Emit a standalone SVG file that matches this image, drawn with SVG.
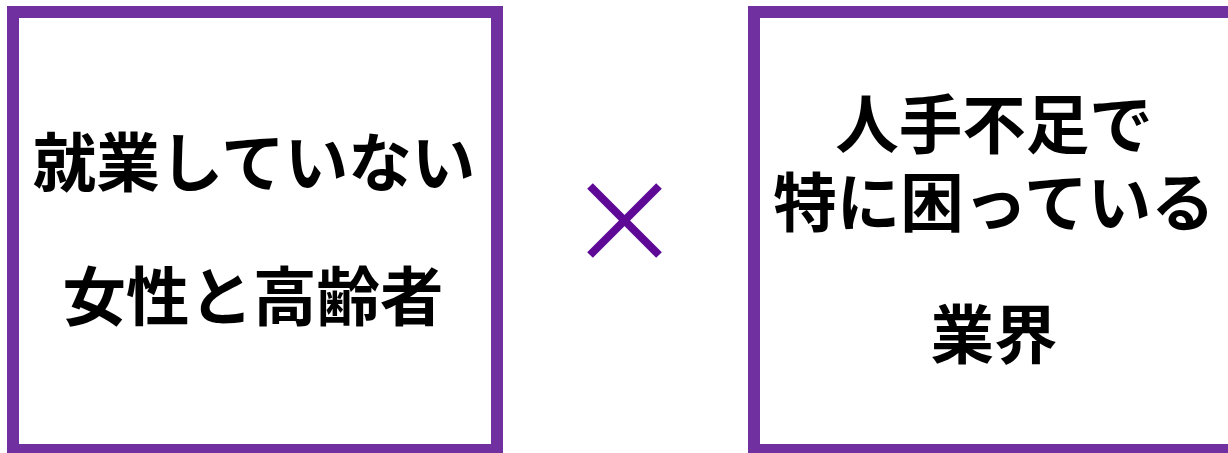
<svg xmlns="http://www.w3.org/2000/svg" width="1228" height="453" viewBox="0 0 1228 453">
<style>
.box{fill:#ffffff;stroke:#7030A0;stroke-width:12}
.t{font-family:"Noto Sans CJK JP","Noto Sans CJK SC",sans-serif;font-weight:700;font-size:63.5px;fill:#000000;text-anchor:middle}
.x{stroke:#5E0A96;stroke-width:8;stroke-linecap:butt}
</style>
<rect width="1228" height="453" fill="#ffffff"/>
<g id="node-left">
<rect class="box" x="13" y="12" width="484" height="438"/>
<text class="t" x="254" y="186">就業していない</text>
<text class="t" x="253" y="320">女性と高齢者</text>
</g>
<g id="node-right">
<rect class="box" x="754" y="12" width="484" height="438"/>
<text class="t" x="994" y="148">人手不足で</text>
<text class="t" x="994" y="226">特に困っている</text>
<text class="t" x="994" y="358">業界</text>
</g>
<g id="connectors">
<line class="x" x1="590" y1="186" x2="659" y2="255"/>
<line class="x" x1="659" y1="186" x2="590" y2="255"/>
</g>
</svg>
